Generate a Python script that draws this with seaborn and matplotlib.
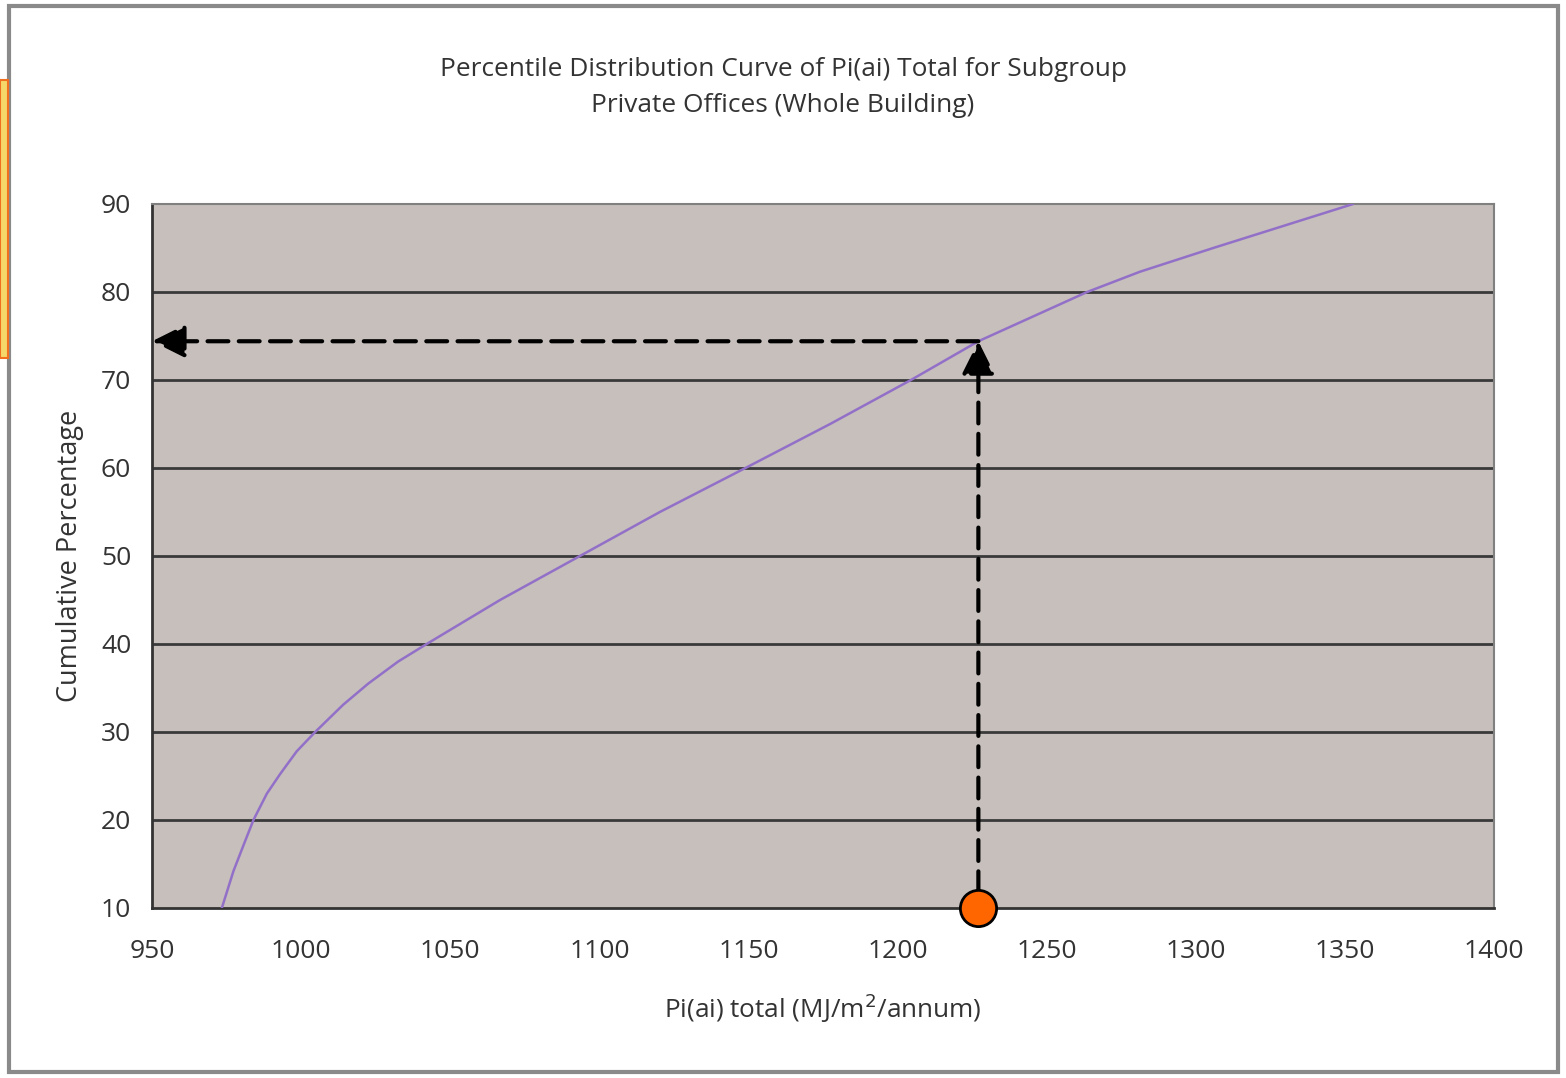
import pandas as pd
import matplotlib
matplotlib.use("Agg")
import matplotlib.pyplot as plt
import matplotlib.patches as mpatches
import seaborn as sns

# DATOS DE LA CURVA
pi_total = [973.4, 977.3, 981.2, 984.0, 988.5, 992.9, 998.5, 1004.7, 1014.1,
            1022.5, 1032.5, 1042.1, 1066.7, 1093.5, 1120.3, 1149.0, 1177.4,
            1204.5, 1227.1, 1263.6, 1281.3, 1305.9, 1352.8]
cum_pct = [10, 14.2, 17.6, 20, 23.0, 25.2, 27.8, 30, 33.1, 35.5, 38.0, 40,
           45, 50, 55, 60, 65, 70, 74.4, 80, 82.3, 85, 90]

# punto marcado
target_x = 1227.1
target_y = 74.4

x_ticks = [950, 1000, 1050, 1100, 1150, 1200, 1250, 1300, 1350, 1400]
y_ticks = [10, 20, 30, 40, 50, 60, 70, 80, 90]

datos = pd.DataFrame({"pi": pi_total, "pct": cum_pct})

sns.set_style("white")
plt.rcParams["font.family"] = ["Open Sans", "DejaVu Sans"]

fig = plt.figure(figsize=(15.66, 10.78), dpi=100)
ax = fig.add_axes([0.0971, 0.1577, 0.8569, 0.6531])
ax.set_facecolor("#c6bfbc")

# lineas horizontales
for yv in y_ticks[1:-1]:
    ax.axhline(yv, color="#3a3a3a", lw=2, zorder=1)

sns.lineplot(data=datos, x="pi", y="pct", color="#9370c8", lw=1.8,
             estimator=None, ax=ax, zorder=3)

ax.set_xlim(950, 1400)
ax.set_ylim(10, 90)
ax.set_xticks(x_ticks)
ax.set_yticks(y_ticks)
ax.tick_params(axis="x", direction="in", length=5, width=1.5, pad=22,
               labelsize=19, labelcolor="#333333")
ax.tick_params(axis="y", direction="out", length=0, pad=15,
               labelsize=19, labelcolor="#333333")

for lado in ["left", "bottom"]:
    ax.spines[lado].set_color("#333333")
    ax.spines[lado].set_linewidth(2)
for lado in ["top", "right"]:
    ax.spines[lado].set_color("#808080")
    ax.spines[lado].set_linewidth(1.5)

ax.set_xlabel("Pi(ai) total (MJ/m$^2$/annum)", fontsize=18.8, color="#333333",
              labelpad=20)
ax.set_ylabel("Cumulative Percentage", fontsize=19.5, color="#333333",
              labelpad=12)

# flechas discontinuas
estilo = dict(arrowstyle="-|>,head_length=1.0,head_width=0.5", color="black",
              lw=3, linestyle=(0, (5, 2.5)), mutation_scale=20,
              shrinkA=0, shrinkB=0)
ax.annotate("", xy=(target_x, target_y), xytext=(target_x, 11.8),
            arrowprops=estilo, zorder=5)
ax.annotate("", xy=(950, target_y), xytext=(target_x, target_y),
            arrowprops=estilo, zorder=5, annotation_clip=False)

ax.scatter([target_x], [10], s=680, color="#ff6600", edgecolor="black",
           linewidth=2, zorder=6, clip_on=False)

# titulo
fig.text(0.5, 0.919,
         "Percentile Distribution Curve of Pi(ai) Total for Subgroup\n"
         "Private Offices (Whole Building)",
         ha="center", va="center", fontsize=18.9, color="#333333",
         linespacing=1.55)

# marco exterior
fig.patches.append(mpatches.Rectangle((0.006, 0.006), 0.989, 0.988,
                                      transform=fig.transFigure, fill=False,
                                      edgecolor="#8a8a8a", lw=3))
fig.patches.append(mpatches.Rectangle((0.0, 0.668), 0.005, 0.258,
                                      transform=fig.transFigure,
                                      facecolor="#f6d86a",
                                      edgecolor="#f07020", lw=1.5))

plt.savefig("out.png", dpi=100)
plt.close()
